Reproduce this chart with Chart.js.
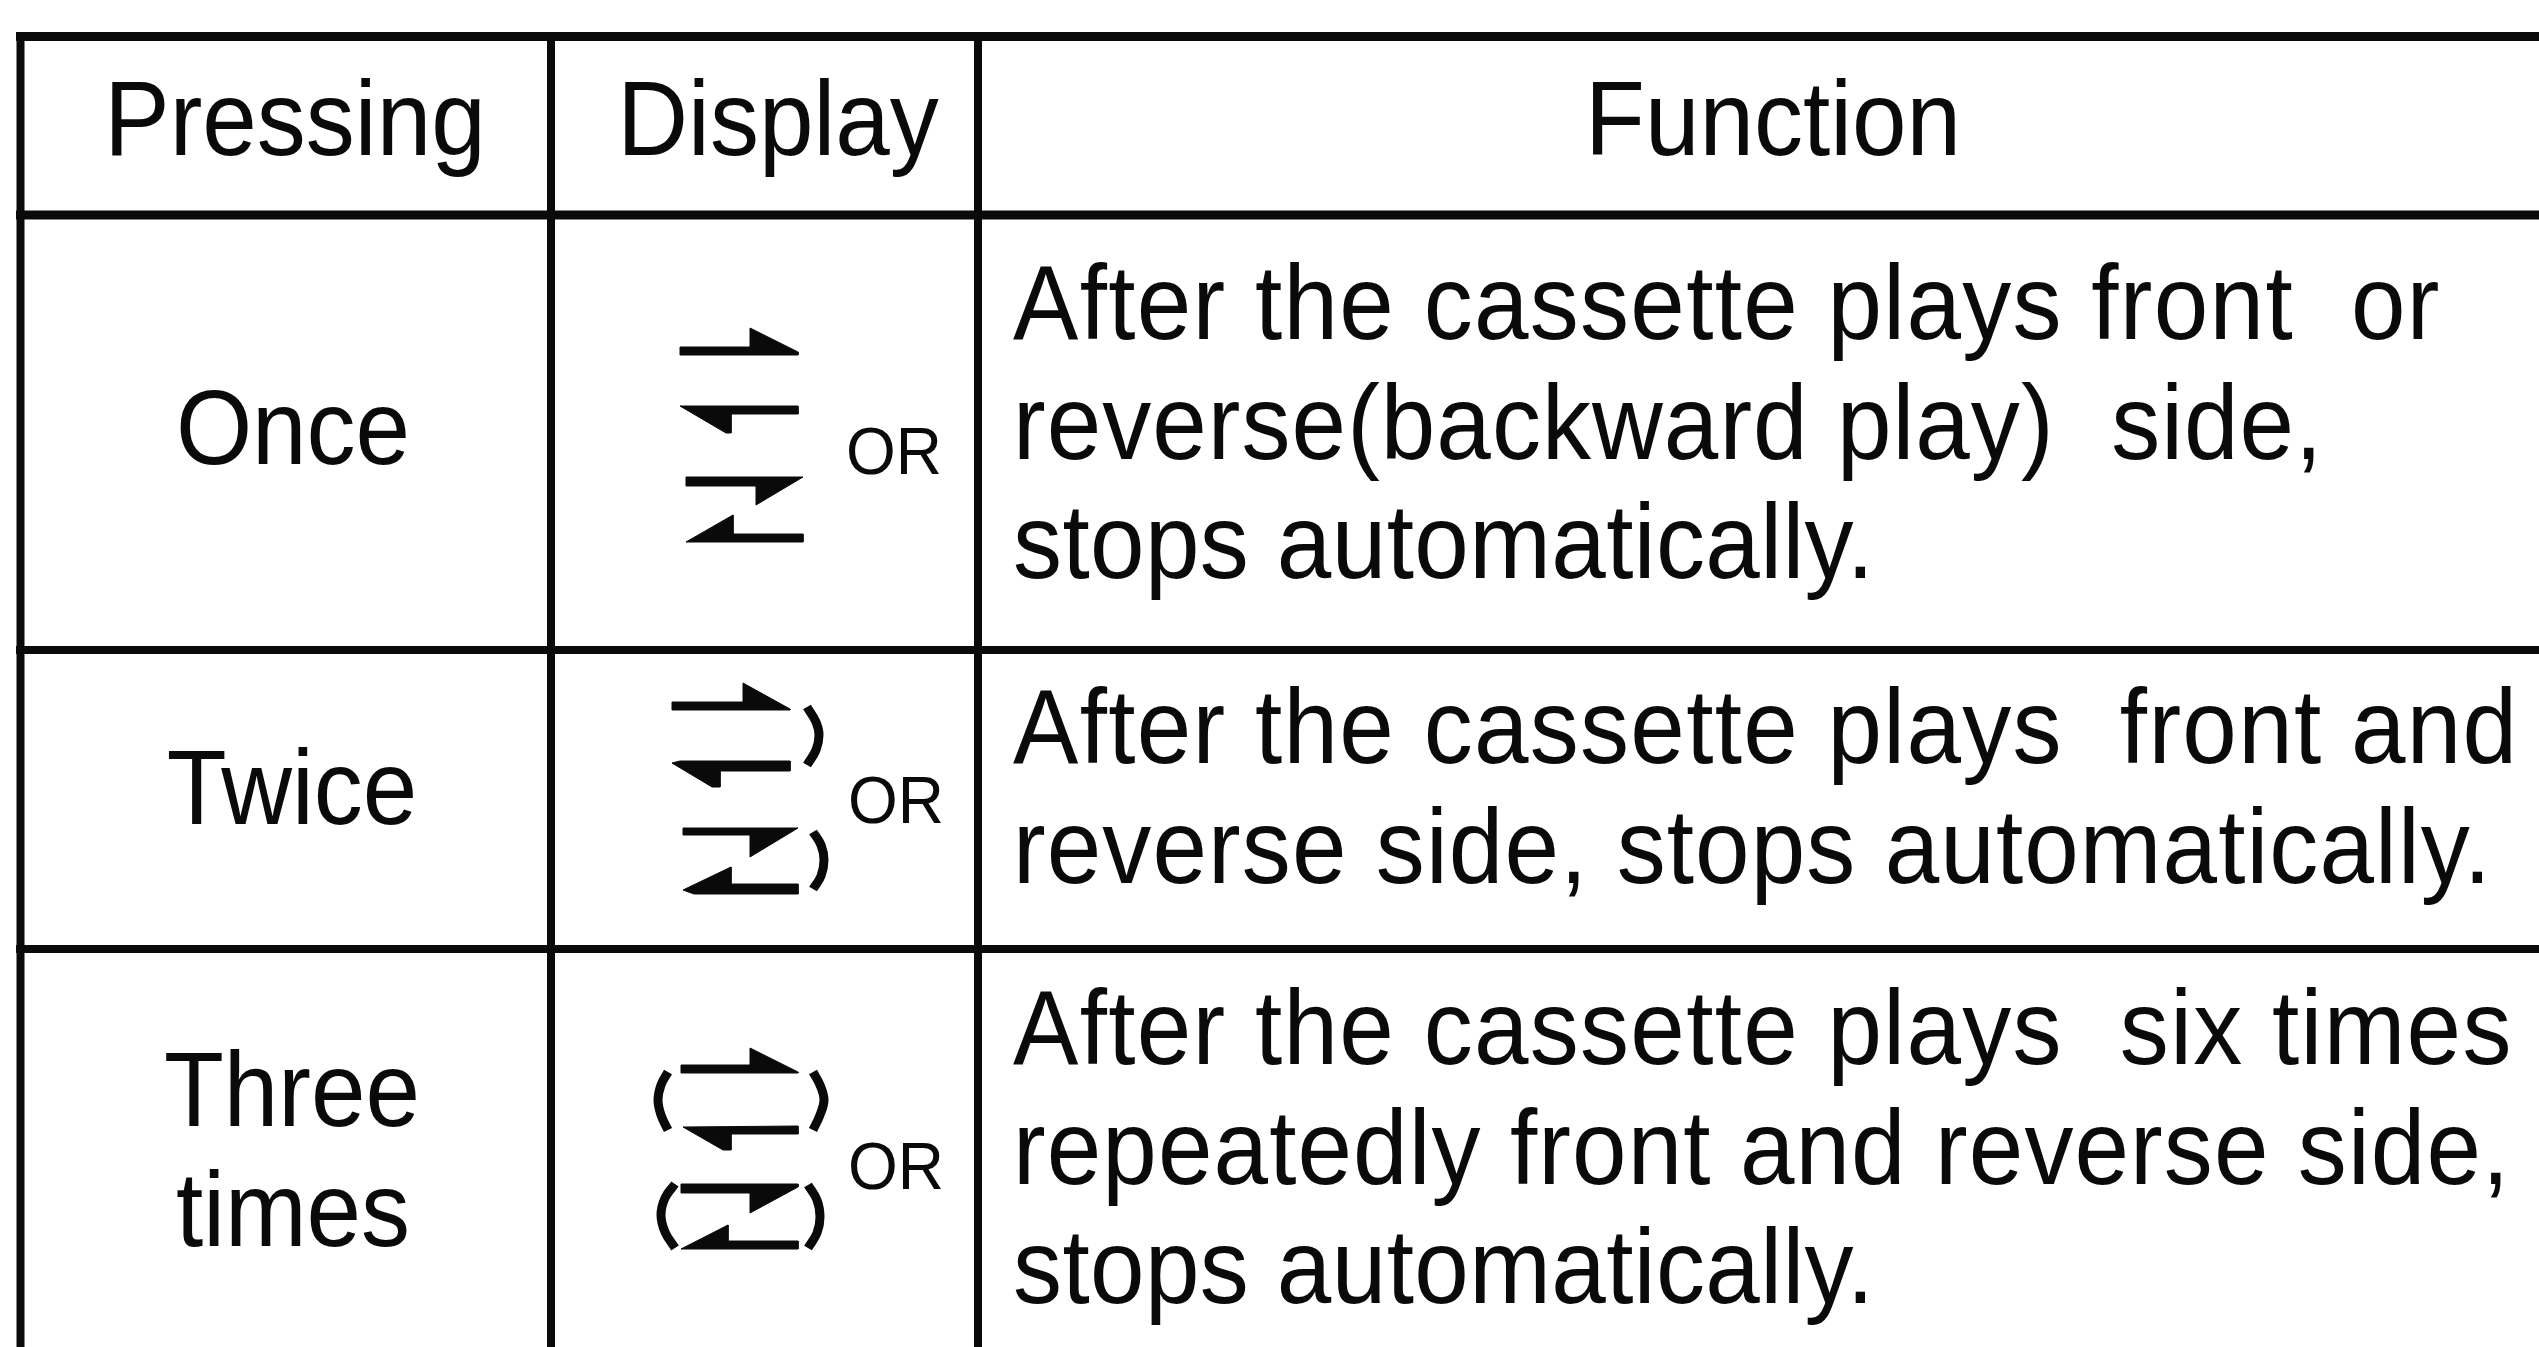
<!DOCTYPE html>
<html><head><meta charset="utf-8">
<style>html,body{margin:0;padding:0;background:#fff}canvas{display:block}</style>
<script src="https://cdn.jsdelivr.net/npm/chart.js@4"></script>
</head><body><canvas id="c" width="2539" height="1347"></canvas>
<script>
const ink = '#0a0a0a';
// table rules: [x0,y0,x1,y1,width]
const rules = [
 [16,36.5,2539,36.5,9],[16,215,2539,215,9],[16,650,2539,650,8],[16,949,2539,949,8],
 [20.5,32,20.5,1347,8],[551,32,551,1347,8],[978,32,978,1347,8]
];
const headerLabels = ['Pressing','Display','Function'];
const pressingLabels = ['Once','Twice','Three','times'];
const functionLines = [
 'After the cassette plays front  or','reverse(backward play)  side,','stops automatically.',
 'After the cassette plays  front and','reverse side, stops automatically.',
 'After the cassette plays  six times','repeatedly front and reverse side,','stops automatically.'
];
const orLabels = ['OR','OR','OR'];
const headerAnchors = [[295,155],[778,155],[1773,155]];
const pressingAnchors = [[293,464],[292,824],[292,1126],[293,1246]];
const functionAnchors = [[1013,339],[1013,459],[1013,578],[1013,763],[1013,883],[1013,1064],[1013,1184],[1013,1303]];
const functionSpacing = [1.3,1.05,0.4,1.3,1.1,1.3,1.1,0.4];
const orAnchors = [[846,474],[848,823],[848,1189]];
const arrows = [
 [[680,347],[750,347],[750,328],[798,352],[798,355],[680,355]],
 [[680,406],[798,406],[798,414],[731,414],[731,433],[726,433]],
 [[686,477],[803,477],[756,505],[756,486],[686,486]],
 [[686,542],[733,515],[733,534],[803,534],[803,542]],
 [[672,702],[743,702],[743,683],[790,709],[790,710],[672,710]],
 [[672,763],[680,761],[790,761],[790,771],[720,771],[720,787],[712,787]],
 [[683,828],[798,828],[750,857],[750,835],[683,835]],
 [[683,890],[731,867],[731,884],[798,884],[798,894],[694,894]],
 [[681,1065],[750,1065],[750,1048],[798,1072],[798,1073],[681,1073]],
 [[683,1127],[798,1126],[798,1134],[731,1134],[731,1150],[723,1150]],
 [[681,1184],[798,1184],[798,1187],[750,1213],[750,1193],[681,1193]],
 [[681,1249],[728,1225],[728,1241],[798,1241],[798,1249]]
];
const parens = [
 [[807,707],[816,722],[819,735],[816,750],[807,765]],
 [[813,832],[821,845],[824,860],[821,876],[813,889]],
 [[668,1072],[661,1085],[658,1100],[661,1115],[668,1130]],
 [[813,1072],[820,1085],[824,1100],[820,1115],[813,1130]],
 [[675,1184],[665,1198],[661,1215],[665,1232],[675,1248]],
 [[808,1185],[817,1200],[820,1217],[817,1233],[808,1248]]
];
const pts = a => a.map(p => ({x:p[0], y:p[1]}));
const datasets = [];
rules.forEach(r => datasets.push({data:[{x:r[0],y:r[1]},{x:r[2],y:r[3]}],showLine:true,borderColor:ink,borderWidth:r[4],pointRadius:0,fill:false,borderCapStyle:'butt'}));
arrows.forEach(a => datasets.push({data:pts(a.concat([a[0]])),showLine:true,borderColor:ink,borderWidth:1,backgroundColor:ink,pointRadius:0,fill:'shape',borderJoinStyle:'miter'}));
parens.forEach(a => datasets.push({data:pts(a),showLine:true,borderColor:ink,borderWidth:9,pointRadius:0,fill:false,tension:0.4,borderCapStyle:'butt'}));

const textPlugin = {id:'tableText',afterDatasetsDraw(chart){
  const {ctx,scales:{x,y}} = chart;
  const put = (labels,anchors,size,align,stretch,spacing) => {
    ctx.font = size+'px "Liberation Sans"'; ctx.textAlign = align; ctx.textBaseline = 'alphabetic'; ctx.fillStyle = ink;
    labels.forEach((t,i)=>{
      ctx.save();
      ctx.letterSpacing = (spacing ? spacing[i] : 0)+'px';
      ctx.translate(x.getPixelForValue(anchors[i][0]),y.getPixelForValue(anchors[i][1]));
      ctx.scale(1,stretch);
      ctx.fillText(t,0,0);
      ctx.restore();
    });
  };
  ctx.save();
  put(headerLabels,headerAnchors,98,'center',1.07);
  put(pressingLabels,pressingAnchors,98,'center',1.07);
  put(functionLines,functionAnchors,98,'left',1.07,functionSpacing);
  put(orLabels,orAnchors,64,'left',1.04);
  ctx.restore();
}};
new Chart(document.getElementById('c'),{type:'scatter',data:{datasets},plugins:[textPlugin],options:{
  responsive:false,animation:false,events:[],
  layout:{padding:0},
  plugins:{legend:{display:false},tooltip:{enabled:false},title:{display:false}},
  scales:{x:{type:'linear',min:0,max:2539,display:false},y:{type:'linear',min:0,max:1347,reverse:true,display:false}}
}});
</script></body></html>
